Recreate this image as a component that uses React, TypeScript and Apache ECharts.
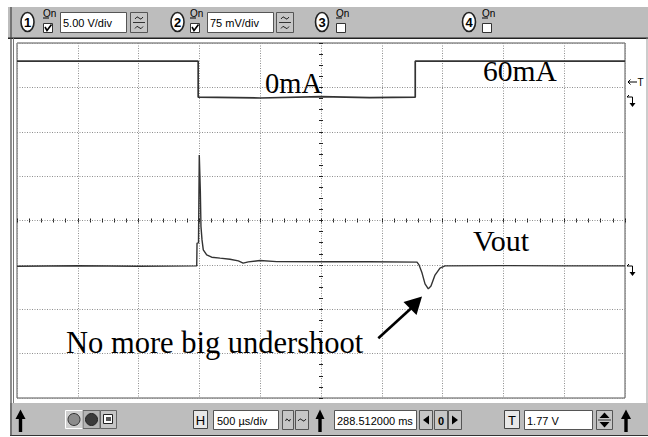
import React, { useEffect, useRef } from 'react';
import * as echarts from 'echarts';

// Channel 1 (load current, 5.00 V/div) — time and level in screen divisions from centre
const ch1Time = [-5, -2.02, -2.02, -1.0, 0.0, 0.8, 1.55, 1.55, 5];
const ch1Level = [3.59, 3.59, 2.78, 2.76, 2.79, 2.77, 2.78, 3.59, 3.59];

// Channel 2 (Vout, 75 mV/div)
const voutTime = [
  -5, -4, -3, -2.044, -2.039, -2.015, -2.002, -1.985, -1.974, -1.957, -1.936, -1.88, -1.798, -1.66,
  -1.497, -1.36, -1.28, -1.196, -1.003, -0.729, 0, 0.8, 1.579, 1.612, 1.661, 1.711, 1.765, 1.809,
  1.875, 1.957, 2.039, 3, 4, 5,
];
const voutLevel = [
  -1.03, -1.02, -1.03, -1.023, -0.511, -0.505, 1.477, 0.689, -0.137, -0.437, -0.662, -0.775, -0.827,
  -0.849, -0.872, -0.91, -0.962, -0.932, -0.903, -0.926, -0.93, -0.93, -0.939, -1.0, -1.18, -1.428,
  -1.541, -1.477, -1.23, -1.074, -1.023, -1.016, -1.023, -1.023,
];

const channelScales = ['5.00 V/div', '75 mV/div'];
const timebaseLabel = '500 µs/div';
const positionLabel = '288.512000 ms';
const triggerLabel = '1.77 V';
const annotationTexts = ['0mA', '60mA', 'Vout', 'No more big undershoot'];

const SANS = 'Liberation Sans, Arial, sans-serif';
const SERIF = 'Liberation Serif, Times New Roman, serif';

const rect = (x: number, y: number, w: number, h: number, fill: string, stroke?: string, lw = 1) => ({
  type: 'rect', silent: true, z: 50,
  shape: { x, y, width: w, height: h },
  style: { fill, stroke: stroke || 'none', lineWidth: lw },
});
const line = (x1: number, y1: number, x2: number, y2: number, stroke: string, lw = 1) => ({
  type: 'line', silent: true, z: 51,
  shape: { x1, y1, x2, y2 },
  style: { stroke, lineWidth: lw },
});
const poly = (points: number[][], fill: string) => ({
  type: 'polygon', silent: true, z: 52, shape: { points }, style: { fill },
});
const pline = (points: number[][], stroke: string, lw = 1) => ({
  type: 'polyline', silent: true, z: 52, shape: { points }, style: { stroke, lineWidth: lw, fill: 'none' },
});
const tilde = (cx: number, cy: number, half = 4) =>
  pline([[cx - half, cy + 1], [cx - half / 2, cy - 1.2], [cx, cy], [cx + half / 2, cy + 1.2], [cx + half, cy - 1]], '#222', 1);
const txt = (text: string, x: number, y: number, size: number, opts: any = {}) => ({
  type: 'text', silent: true, z: 60,
  style: {
    text, x, y, fill: opts.fill || '#000', fontSize: size, fontFamily: opts.family || SANS,
    fontWeight: opts.weight || 'normal', align: opts.align || 'left', verticalAlign: opts.valign || 'middle',
  },
});

function channelWidget(n: number, cx: number, onX: number, checked: boolean, label?: string, inX?: number, btnX?: number) {
  const els: any[] = [];
  els.push({
    type: 'ellipse', silent: true, z: 52,
    shape: { cx, cy: 22, rx: 6.5, ry: 9.5 },
    style: { fill: '#fff', stroke: '#222', lineWidth: 1.6 },
  });
  els.push(txt(String(n), cx, 22.5, 13, { align: 'center', weight: 'bold' }));
  els.push(txt('On', onX, 13, 10));
  els.push(line(onX, 18, onX + 6, 18, '#000', 1));
  els.push(rect(onX + 0.5, 23.5, 9, 9, '#fff', '#333', 1));
  if (checked) els.push(pline([[onX + 2, 27], [onX + 4, 30.5], [onX + 8.5, 24.5]], '#000', 1.6));
  if (label && inX !== undefined && btnX !== undefined) {
    els.push(rect(inX + 0.5, 12.5, 66, 20, '#fff', '#555', 1));
    els.push(txt(label, inX + 3, 22.5, 11));
    els.push(rect(btnX + 0.5, 12.5, 17, 20, '#c6c6c6', '#555', 1));
    els.push(tilde(btnX + 9, 18));
    els.push(line(btnX + 3, 22.5, btnX + 15, 22.5, '#333', 1));
    els.push(tilde(btnX + 9, 27.5));
  }
  return els;
}

function upArrow(x: number, w = 10) {
  const c = x + w / 2;
  return [rect(c - 1.7, 417, 3.4, 15, '#000'), poly([[x, 419], [c, 409.5], [x + w, 419]], '#000')];
}

function chMarker(y: number) {
  return [
    pline([[627, y], [632.5, y], [632.5, y + 7]], '#000', 1),
    line(627, y, 629, y - 2, '#000', 1),
    poly([[629.5, y + 6], [635.5, y + 6], [632.5, y + 10]], '#000'),
  ];
}

function buildGraphic() {
  const g: any[] = [];
  // toolbars and frame
  g.push(rect(8, 7, 640, 31, '#bdbdbd'));
  g.push(line(8, 38.2, 648, 38.2, '#222', 1.6));
  g.push(rect(10, 403, 638, 32, '#bdbdbd'));
  g.push(line(10, 435.5, 648, 435.5, '#333', 1.2));
  g.push(line(11, 7, 11, 436, '#444', 1.2));
  g.push(line(13.5, 38, 13.5, 403, '#777', 1));
  g.push(line(647, 38, 647, 403, '#999', 1));
  // top channel widgets
  g.push(...channelWidget(1, 27.5, 43, true, channelScales[0], 60, 130));
  g.push(...channelWidget(2, 177.5, 190, true, channelScales[1], 207, 276));
  g.push(...channelWidget(3, 322, 336, false));
  g.push(...channelWidget(4, 469, 482, false));
  // bottom toolbar
  g.push(...upArrow(15.5));
  g.push(rect(65.5, 410.5, 17, 18, '#cfcfcf', '#fff', 1));
  g.push({ type: 'circle', silent: true, z: 52, shape: { cx: 74, cy: 419.5, r: 6 }, style: { fill: '#8c8c8c', stroke: '#333', lineWidth: 1 } });
  g.push(rect(83, 410.5, 17, 18, '#b4b4b4', '#666', 1));
  g.push({ type: 'circle', silent: true, z: 52, shape: { cx: 91.5, cy: 419.5, r: 6 }, style: { fill: '#3a3a3a', stroke: '#222', lineWidth: 1 } });
  g.push(rect(100.5, 410.5, 16, 18, '#c6c6c6', '#666', 1));
  g.push(rect(103.5, 414.5, 9, 9, '#fff', '#222', 1));
  g.push(rect(106, 417, 5, 4, '#555'));
  g.push(rect(193.5, 410.5, 14, 18, '#e8e8e8', '#444', 1));
  g.push(txt('H', 200.5, 420, 13, { align: 'center' }));
  g.push(rect(213.5, 410.5, 65, 19, '#fff', '#555', 1));
  g.push(txt(timebaseLabel, 217, 420.5, 11));
  g.push(rect(282.5, 410.5, 11, 19, '#c6c6c6', '#555', 1));
  g.push(tilde(288, 420, 2.5));
  g.push(rect(295.5, 410.5, 13, 19, '#c6c6c6', '#555', 1));
  g.push(tilde(302, 420, 4));
  g.push(...upArrow(315.5, 9));
  g.push(rect(334.5, 410.5, 82, 19, '#fff', '#555', 1));
  g.push(txt(positionLabel, 337, 420.5, 11));
  g.push(rect(419.5, 410.5, 13, 19, '#c6c6c6', '#555', 1));
  g.push(poly([[423, 420], [429, 415.5], [429, 424.5]], '#000'));
  g.push(rect(434.5, 410.5, 13, 19, '#c6c6c6', '#555', 1));
  g.push(txt('0', 441, 420.5, 11, { align: 'center', weight: 'bold' }));
  g.push(rect(448.5, 410.5, 13, 19, '#c6c6c6', '#555', 1));
  g.push(poly([[458, 420], [452, 415.5], [452, 424.5]], '#000'));
  g.push(rect(504.5, 410.5, 15, 18, '#e8e8e8', '#444', 1));
  g.push(txt('T', 512, 420, 13, { align: 'center' }));
  g.push(rect(524.5, 410.5, 68, 19, '#fff', '#555', 1));
  g.push(txt(triggerLabel, 527, 420.5, 11));
  g.push(rect(596.5, 410.5, 16, 19, '#c6c6c6', '#555', 1));
  g.push(poly([[599.5, 418], [604.5, 412.5], [609.5, 418]], '#000'));
  g.push(line(598, 420, 611, 420, '#333', 1));
  g.push(poly([[599.5, 422], [604.5, 427.5], [609.5, 422]], '#000'));
  g.push(...upArrow(621, 10));
  // right side markers
  g.push(line(628, 82, 637, 82, '#000', 1));
  g.push(pline([[630.5, 79.5], [628, 82], [630.5, 84.5]], '#000', 1));
  g.push(txt('T', 637.5, 82, 10));
  g.push(...chMarker(97));
  g.push(...chMarker(266));
  // annotations
  g.push(txt(annotationTexts[0], 265, 83.5, 28.5, { family: SERIF }));
  g.push(txt(annotationTexts[1], 483, 71, 29.5, { family: SERIF }));
  g.push(txt(annotationTexts[2], 473, 240.5, 30, { family: SERIF }));
  g.push(txt(annotationTexts[3], 66, 343, 30.5, { family: SERIF }));
  // arrow
  g.push(line(378.3, 338.3, 412, 307.5, '#000', 2.6));
  g.push(poly([[422, 296.5], [403.5, 302], [416.5, 315]], '#000'));
  return g;
}

const gridSplit = { show: true, lineStyle: { color: '#8e8e8e', type: [1, 1.5], width: 1 } };
const hidden = { show: false };

function tickAxis(inside: boolean, min: number, max: number, minorSplit: number) {
  return {
    type: 'value', min, max, interval: 1,
    axisLine: { show: false, onZero: true },
    axisTick: { show: true, inside, length: 2, lineStyle: { color: '#222', width: 1 } },
    minorTick: { show: true, splitNumber: minorSplit, length: 2, lineStyle: { color: '#222', width: 1 } },
    axisLabel: hidden, splitLine: hidden, minorSplitLine: hidden,
  };
}

export default function App() {
  const ref = useRef<HTMLDivElement>(null);
  useEffect(() => {
    const chart = echarts.init(ref.current!, null, { renderer: 'svg' });
    const ch1Data = ch1Time.map((t, i) => [t, ch1Level[i]]);
    const voutData = voutTime.map((t, i) => [t, voutLevel[i]]);
    chart.setOption({
      animation: false,
      backgroundColor: '#fff',
      grid: {
        left: 17, top: 43, width: 608, height: 355, show: true,
        backgroundColor: '#fff', borderColor: '#555', borderWidth: 1,
      },
      xAxis: [
        { type: 'value', min: -5, max: 5, interval: 1, axisLine: hidden, axisTick: hidden, axisLabel: hidden, splitLine: gridSplit },
        tickAxis(true, -5, 5, 5),
        tickAxis(false, -5, 5, 5),
      ],
      yAxis: [
        { type: 'value', min: -4, max: 4, interval: 1, axisLine: hidden, axisTick: hidden, axisLabel: hidden, splitLine: gridSplit },
        tickAxis(true, -4, 4, 4),
        tickAxis(false, -4, 4, 4),
      ],
      series: [
        {
          type: 'line', xAxisIndex: 0, yAxisIndex: 0, data: ch1Data, showSymbol: false, z: 5,
          lineStyle: { color: '#333', width: 1.7 },
        },
        {
          type: 'line', xAxisIndex: 0, yAxisIndex: 0, data: voutData, showSymbol: false, z: 5,
          lineStyle: { color: '#333', width: 1.4 },
        },
      ],
      graphic: buildGraphic(),
    });
    return () => chart.dispose();
  }, []);
  return (
    <div
      ref={ref}
      style={{ position: 'fixed', left: 0, top: 0, width: 648, height: 437, background: '#fff' }}
    />
  );
}
